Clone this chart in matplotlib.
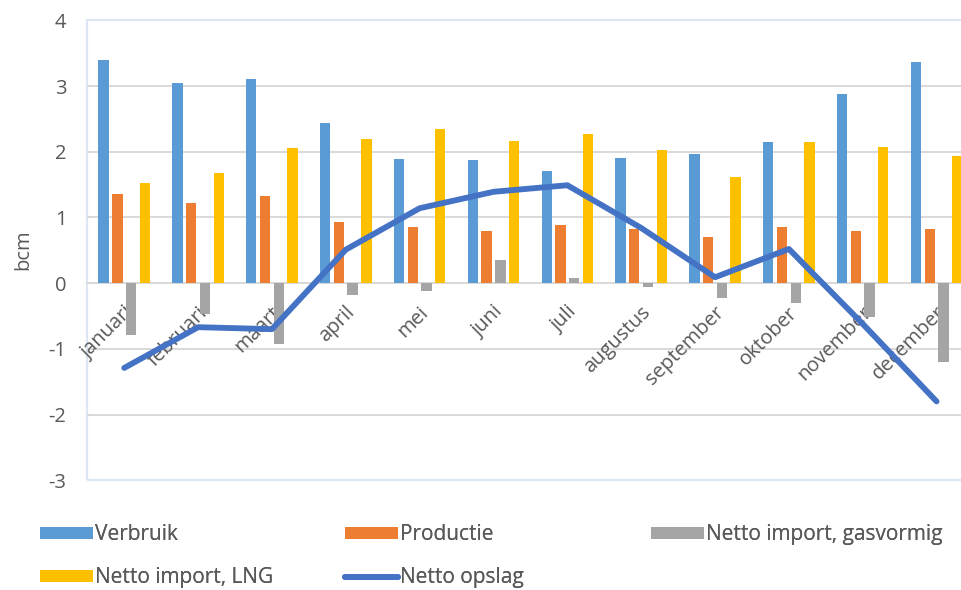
import matplotlib
matplotlib.use("Agg")
import matplotlib.pyplot as plt
import matplotlib.transforms as mtransforms
from matplotlib.patches import Patch, Rectangle
from matplotlib.lines import Line2D
import numpy as np

months = ["januari", "februari", "maart", "april", "mei", "juni", "juli",
          "augustus", "september", "oktober", "november", "december"]
verbruik = [3.39, 3.04, 3.10, 2.44, 1.89, 1.87, 1.70, 1.91, 1.97, 2.15, 2.88, 3.37]
productie = [1.36, 1.22, 1.32, 0.93, 0.85, 0.79, 0.89, 0.83, 0.71, 0.85, 0.79, 0.83]
import_gas = [-0.79, -0.47, -0.93, -0.18, -0.12, 0.35, 0.08, -0.06, -0.22, -0.30, -0.52, -1.20]
import_lng = [1.52, 1.68, 2.05, 2.19, 2.35, 2.17, 2.27, 2.03, 1.62, 2.15, 2.07, 1.93]
opslag = [-1.29, -0.67, -0.70, 0.51, 1.14, 1.39, 1.49, 0.84, 0.09, 0.52, -0.62, -1.80]
yticks = [-3, -2, -1, 0, 1, 2, 3, 4]

series_names = ["Verbruik", "Productie", "Netto import, gasvormig", "Netto import, LNG", "Netto opslag"]
colors = ["#5B9BD5", "#ED7D31", "#A5A5A5", "#FFC000", "#4472C4"]

TICK_FONT = "Open Sans"
LEG_FONT = "Open Sans"
TXT = "#595959"

fig = plt.figure(figsize=(9.61, 5.90), dpi=100)
W, H = 961, 590
left, right, top, bottom = 87.3, 973.5, 20.3, 480.3
ax = fig.add_axes([left / W, 1 - bottom / H, (right - left) / W, (bottom - top) / H])

x = np.arange(len(months))
bw = 0.14
offs = [-0.279, -0.093, 0.093, 0.279]
for vals, off, c in zip([verbruik, productie, import_gas, import_lng], offs, colors[:4]):
    ax.bar(x + off, vals, width=bw, color=c, zorder=3, linewidth=0)

ax.plot(x, opslag, color=colors[4], lw=4.2, solid_capstyle="round",
        solid_joinstyle="round", zorder=4)

ax.set_xlim(-0.5, len(months) - 0.5)
ax.set_ylim(-3, 4)
ax.set_yticks(yticks)
ax.set_yticklabels([str(v) for v in yticks], fontfamily=TICK_FONT, fontsize=14.5, color=TXT)
for yv in yticks[1:-1]:
    ax.axhline(yv, color="#D9D9D9", lw=1.4, zorder=1)

for s in ["top", "right", "left"]:
    ax.spines[s].set_visible(False)
ax.spines["bottom"].set_position(("data", 0))
ax.spines["bottom"].set_color("#D9D9D9")
ax.spines["bottom"].set_linewidth(1.4)
ax.spines["bottom"].set_zorder(2)

border = Rectangle((0, 0), 1, 1, transform=ax.transAxes, fill=False,
                   edgecolor="#DDE7F4", lw=1.6, zorder=0, clip_on=False)
ax.add_patch(border)

ax.tick_params(axis="y", length=0, pad=15)
ax.tick_params(axis="x", length=0, pad=14)
ax.set_xticks(x)
ax.set_xticklabels(months, rotation=45, ha="right", va="top", rotation_mode="anchor",
                   fontfamily=TICK_FONT, fontsize=14.5, color=TXT)
off = mtransforms.ScaledTranslation(-1 / 100, 0, fig.dpi_scale_trans)
for lab in ax.get_xticklabels():
    lab.set_transform(lab.get_transform() + off)

fig.text(23 / W, 1 - 250 / H, "bcm", rotation=90, ha="center", va="center",
         fontfamily=TICK_FONT, fontsize=14.5, color=TXT)

# legend
handles = [Patch(facecolor=c, edgecolor="none") for c in colors[:4]]
handles.append(Line2D([0], [0], color=colors[4], lw=4.2, solid_capstyle="round"))
groups = [([0, 3], 40), ([1, 4], 345), ([2], 651)]
for idx, xpos in groups:
    leg = fig.legend([handles[i] for i in idx], [series_names[i] for i in idx],
                     loc="upper left", bbox_to_anchor=(xpos / W, 1 - 524 / H),
                     frameon=False, ncol=1, borderaxespad=0, borderpad=0,
                     handlelength=2.55, handleheight=0.5, handletextpad=0.08,
                     labelspacing=1.08,
                     prop={"family": LEG_FONT, "size": 15})
    for t in leg.get_texts():
        t.set_color(TXT)
    fig.add_artist(leg)

fig.savefig("out.png", dpi=100)
